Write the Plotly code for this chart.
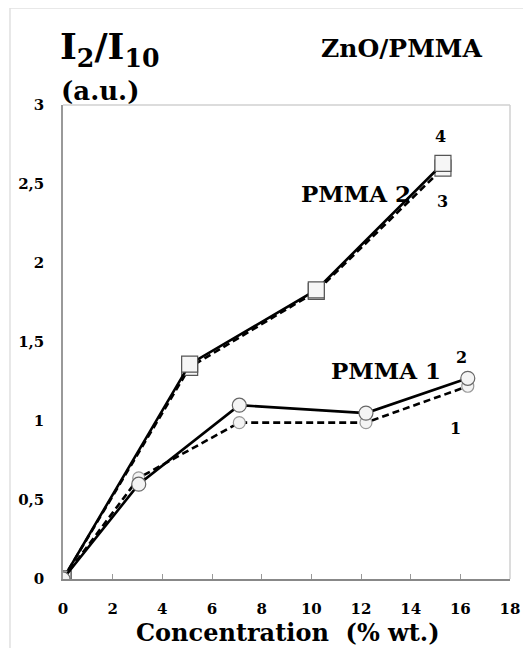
import plotly.graph_objects as go

# PMMA 1 series (circles)
conc_pmma1 = [0, 3.05, 7.1, 12.2, 16.3]
ratio_curve1 = [0, 0.64, 0.99, 0.99, 1.22]   # dashed
ratio_curve2 = [0, 0.60, 1.10, 1.05, 1.27]   # solid

# PMMA 2 series (squares)
conc_pmma2 = [0, 5.1, 10.2, 15.3]
ratio_curve3 = [0, 1.34, 1.82, 2.60]          # dashed
ratio_curve4 = [0, 1.36, 1.83, 2.63]          # solid

x_ticks = [0, 2, 4, 6, 8, 10, 12, 14, 16, 18]
y_ticks = [0, 0.5, 1, 1.5, 2, 2.5, 3]
y_tick_labels = ["0", "0,5", "1", "1,5", "2", "2,5", "3"]

FONT = "DejaVu Serif"

fig = go.Figure()

fig.add_trace(go.Scatter(
    x=conc_pmma2, y=ratio_curve3, mode="lines+markers",
    line=dict(color="black", width=2.6, dash="7px,4px"),
    marker=dict(symbol="square", size=16, color="#f6f6f6",
                line=dict(color="#555", width=1.2)),
))
fig.add_trace(go.Scatter(
    x=conc_pmma2, y=ratio_curve4, mode="lines+markers",
    line=dict(color="black", width=2.6),
    marker=dict(symbol="square", size=16, color="#f6f6f6",
                line=dict(color="#555", width=1.2)),
))
fig.add_trace(go.Scatter(
    x=conc_pmma1, y=ratio_curve1, mode="lines+markers",
    line=dict(color="black", width=2.6, dash="7px,4px"),
    marker=dict(symbol="circle", size=12, color="#f4f4f4",
                line=dict(color="#999", width=1.2)),
))
fig.add_trace(go.Scatter(
    x=conc_pmma1, y=ratio_curve2, mode="lines+markers",
    line=dict(color="black", width=2.6),
    marker=dict(symbol="circle", size=14, color="#f4f4f4",
                line=dict(color="#666", width=1.2)),
))

annotations = [
    dict(text="<b>I<sub>2</sub>/I<sub>10</sub></b>", xref="paper", yref="paper",
         x=-0.011, y=1.118, xanchor="left", yanchor="middle",
         font=dict(size=36, family=FONT, color="black"), showarrow=False),
    dict(text="<b>(a.u.)</b>", xref="paper", yref="paper",
         x=-0.008, y=1.03, xanchor="left", yanchor="middle",
         font=dict(size=26, family=FONT, color="black"), showarrow=False),
    dict(text="<b>ZnO/PMMA</b>", xref="paper", yref="paper",
         x=0.942, y=1.12, xanchor="right", yanchor="middle",
         font=dict(size=25, family=FONT, color="black"), showarrow=False),
    dict(text="<b>PMMA 2</b>", x=11.8, y=2.44, xanchor="center", yanchor="middle",
         font=dict(size=23, family=FONT, color="black"), showarrow=False),
    dict(text="<b>PMMA 1</b>", x=13.0, y=1.32, xanchor="center", yanchor="middle",
         font=dict(size=23, family=FONT, color="black"), showarrow=False),
    dict(text="<b>4</b>", x=15.2, y=2.80, font=dict(size=16, family=FONT, color="black"), showarrow=False),
    dict(text="<b>3</b>", x=15.3, y=2.39, font=dict(size=16, family=FONT, color="black"), showarrow=False),
    dict(text="<b>2</b>", x=16.05, y=1.40, font=dict(size=16, family=FONT, color="black"), showarrow=False),
    dict(text="<b>1</b>", x=15.8, y=0.95, font=dict(size=16, family=FONT, color="black"), showarrow=False),
    dict(text="<b>Concentration\u00a0\u00a0(% wt.)</b>", xref="paper", yref="paper",
         x=0.503, y=-0.113, xanchor="center", yanchor="middle",
         font=dict(size=24, family=FONT, color="black"), showarrow=False),
]

shapes = [
    dict(type="line", xref="paper", yref="paper", x0=0, x1=1, y0=1, y1=1,
         line=dict(color="#d0d0d0", width=1.5)),
    dict(type="line", xref="paper", yref="paper", x0=1, x1=1, y0=0, y1=1,
         line=dict(color="#d0d0d0", width=1.5)),
    dict(type="line", xref="paper", yref="paper", x0=-0.1186, x1=1.05, y0=1.2046, y1=1.2046,
         line=dict(color="#e0e0e0", width=1.5)),
    dict(type="line", xref="paper", yref="paper", x0=-0.1186, x1=-0.1186, y0=-0.2, y1=1.2046,
         line=dict(color="#e0e0e0", width=1.5)),
]

fig.update_layout(
    width=523, height=640,
    margin=dict(l=55, r=21, t=97, b=69),
    paper_bgcolor="white", plot_bgcolor="white",
    showlegend=False,
    annotations=annotations,
    shapes=shapes,
    font=dict(family=FONT, color="black"),
)
fig.update_xaxes(
    range=[0, 18], tickvals=x_ticks, ticktext=[f"<b>{v}</b>" for v in x_ticks],
    showgrid=False, zeroline=False, showline=True, linecolor="#888", linewidth=1.5,
    ticks="inside", ticklen=5, tickcolor="#999", tickwidth=1, automargin=False,
    tickfont=dict(size=15, family=FONT, color="black"), ticklabelstandoff=15,
)
fig.update_yaxes(
    range=[0, 3], tickvals=y_ticks, ticktext=[f"<b>{t}</b>" for t in y_tick_labels],
    showgrid=False, zeroline=False, showline=True, linecolor="#999", linewidth=1.5,
    ticks="", automargin=False,
    tickfont=dict(size=15, family=FONT, color="black"), ticklabelstandoff=14,
)

fig.write_html("out.html")
